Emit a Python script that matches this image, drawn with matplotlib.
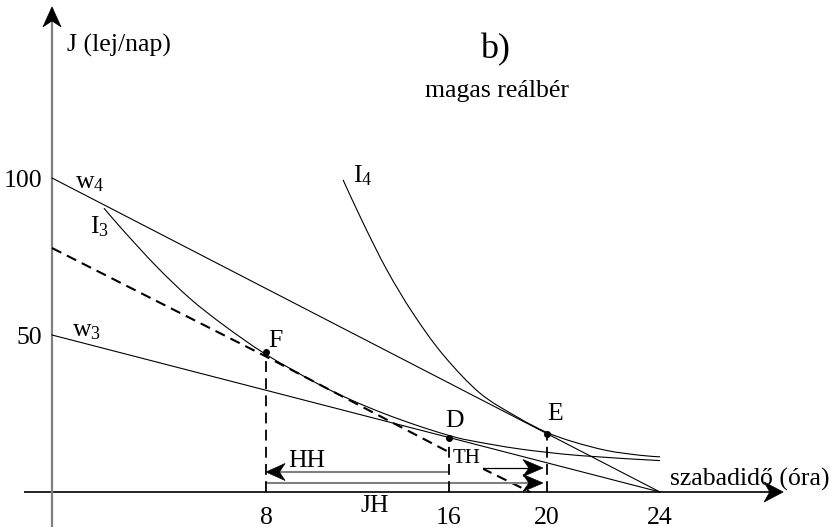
import matplotlib
matplotlib.use("Agg")
import matplotlib.pyplot as plt
from matplotlib.patches import Polygon, PathPatch
from matplotlib.path import Path
from matplotlib.transforms import ScaledTranslation
import numpy as np

plt.rcParams['font.family'] = ['Liberation Serif', 'DejaVu Serif']
plt.rcParams['mathtext.fontset'] = 'custom'
plt.rcParams['mathtext.rm'] = 'Liberation Serif'
plt.rcParams['mathtext.it'] = 'Liberation Serif:italic'

# ---- data (hours on x, lej/day on y) ----
tick_labels = ["8", "16", "20", "24"]
tick_pos = [8.45, 15.67, 19.54, 24.0]        # drawn positions of the hour ticks
y_tick_labels = ["100", "50"]
y_tick_vals = [100, 50]

budget_w4 = ([0, 24], [100, 0])
budget_w3 = ([0, 24], [50, 0])

i4_x = [11.49, 12.28, 13.22, 14.25, 15.43, 16.89, 18.36, 19.50, 20.57, 21.91, 23.21, 24.0]
i4_y = [99.4, 85.7, 70.7, 56.9, 43.8, 31.5, 23.9, 19.1, 16.0, 13.2, 11.7, 11.2]

i3_x = [2.05, 2.80, 4.14, 5.45, 6.75, 8.41, 10.46, 11.76, 13.07, 14.41, 15.63, 16.50, 18.47, 20.84, 24.0]
i3_y = [90.4, 83.4, 71.7, 61.6, 53.3, 44.0, 34.6, 29.5, 25.1, 21.2, 18.1, 16.4, 13.7, 11.6, 10.0]

dash_x = [0.0, 8.41, 15.43, 18.87]
dash_y = [77.7, 43.3, 13.7, 0.0]

pt_F = (8.45, 44.6)
pt_D = (15.67, 17.35)
pt_E = (19.54, 18.58)

HH_y, JH_y, TH_y = 6.37, 2.87, 7.64
TH_x0 = 16.97
arrow_tip_x = 19.38

# ---- figure ----
W, H = 836, 530
fig = plt.figure(figsize=(W / 100, H / 100), dpi=100)
ax = fig.add_axes([0, 0, 1, 1])
x0px, sx = 52.0, 25.333
y0px, sy = 492.0, 3.14
ax.set_xlim(-x0px / sx, (W - x0px) / sx)
ax.set_ylim((y0px - H) / sy, y0px / sy)
ax.axis('off')


def smooth_path(xs, ys):
    """Catmull-Rom through the given points, as cubic Bezier segments."""
    P = np.column_stack([xs, ys]).astype(float)
    n = len(P)
    verts = [P[0]]
    codes = [Path.MOVETO]
    for i in range(n - 1):
        p0 = P[i - 1] if i > 0 else P[i]
        p1, p2 = P[i], P[i + 1]
        p3 = P[i + 2] if i + 2 < n else P[i + 1]
        c1 = p1 + (p2 - p0) / 6.0
        c2 = p2 - (p3 - p1) / 6.0
        verts += [c1, c2, p2]
        codes += [Path.CURVE4] * 3
    return Path(np.array(verts), codes)


def draw_curve(xs, ys, **kw):
    ax.add_patch(PathPatch(smooth_path(xs, ys), facecolor='none', **kw))


thin = 0.8
# axes
ax.plot([-1.105, 28.6], [0, 0], color='black', lw=1.2, solid_capstyle='butt')
ax.plot([0, 0], [-11.15, 154.0], color='#808080', lw=1.6, solid_capstyle='butt')


def head(x, y, angle, L=19, Wd=18, notch=0.68, color='black'):
    verts = np.array([[0, 0], [-L, Wd / 2], [-notch * L, 0], [-L, -Wd / 2]]) / 100.0
    c, s = np.cos(np.radians(angle)), np.sin(np.radians(angle))
    R = np.array([[c, -s], [s, c]])
    verts = verts @ R.T
    tr = fig.dpi_scale_trans + ScaledTranslation(x, y, ax.transData)
    ax.add_patch(Polygon(verts, closed=True, transform=tr, facecolor=color,
                         edgecolor=color, lw=0.5, zorder=5))


head(28.86, 0, 0, L=19, Wd=20, notch=0.7)
head(0, 154.5, 90, L=20, Wd=18, notch=0.7)

# budget lines and indifference curves
ax.plot(*budget_w4, color='black', lw=thin)
ax.plot(*budget_w3, color='black', lw=thin)
draw_curve(i4_x, i4_y, edgecolor='black', lw=thin)
draw_curve(i3_x, i3_y, edgecolor='black', lw=thin)
ax.plot(dash_x, dash_y, color='black', lw=1.5, dashes=(5, 3))

# vertical dashed lines
for (px, py) in (pt_F, pt_D, pt_E):
    ax.plot([px, px], [0, py], color='black', lw=1.3, dashes=(6, 3.5), zorder=4)
    ax.plot([px], [py], 'o', color='black', ms=4, zorder=6)

# HH, JH, TH arrows
ax.plot([pt_D[0], pt_F[0] + 0.3], [HH_y, HH_y], color='#808080', lw=1.5)
head(pt_F[0], HH_y, 180, L=19, Wd=17, notch=0.7)
ax.plot([pt_F[0], arrow_tip_x - 0.3], [JH_y, JH_y], color='#808080', lw=1.5)
head(arrow_tip_x, JH_y, 0, L=20, Wd=17, notch=0.7)
ax.plot([TH_x0, arrow_tip_x - 0.3], [TH_y, TH_y], color='black', lw=0.9)
head(arrow_tip_x, TH_y, 0, L=20, Wd=17, notch=0.7)

fs = 18.5
# tick labels
for lab, p in zip(tick_labels, tick_pos):
    ax.text(p, -10.3, lab, fontsize=fs, ha='center', va='baseline')
for lab, v in zip(y_tick_labels, y_tick_vals):
    ax.text(-0.39, v - 3.0, lab, fontsize=fs, ha='right', va='baseline')

# labels
ax.text(0.59, 140.4, "J (lej/nap)", fontsize=fs, va='baseline')
ax.text(16.9, 138.2, "b)", fontsize=26, va='baseline')
ax.text(14.72, 125.8, "magas reálbér", fontsize=fs, va='baseline')
ax.text(24.4, 2.2, "szabadidő (óra)", fontsize=fs, va='baseline')
ax.text(0.91, 96.8, r"w$_\mathrm{4}$", fontsize=fs, va='baseline')
ax.text(0.79, 49.4, r"w$_\mathrm{3}$", fontsize=fs, va='baseline')
ax.text(1.50, 82.5, r"I$_\mathrm{3}$", fontsize=fs, va='baseline')
ax.text(11.88, 98.7, r"I$_\mathrm{4}$", fontsize=fs, va='baseline')
ax.text(8.53, 46.2, "F", fontsize=fs, va='baseline')
ax.text(15.51, 20.7, "D", fontsize=fs, va='baseline')
ax.text(19.54, 22.9, "E", fontsize=fs, va='baseline')
ax.text(9.32, 8.0, "HH", fontsize=fs, va='baseline')
ax.text(15.83, 9.2, "TH", fontsize=15, va='baseline', zorder=5,
        bbox=dict(facecolor='white', edgecolor='none', pad=1.5))
ax.text(12.75, -6.4, "JH", fontsize=fs, ha='center', va='baseline')

fig.savefig("out.png", dpi=100)
